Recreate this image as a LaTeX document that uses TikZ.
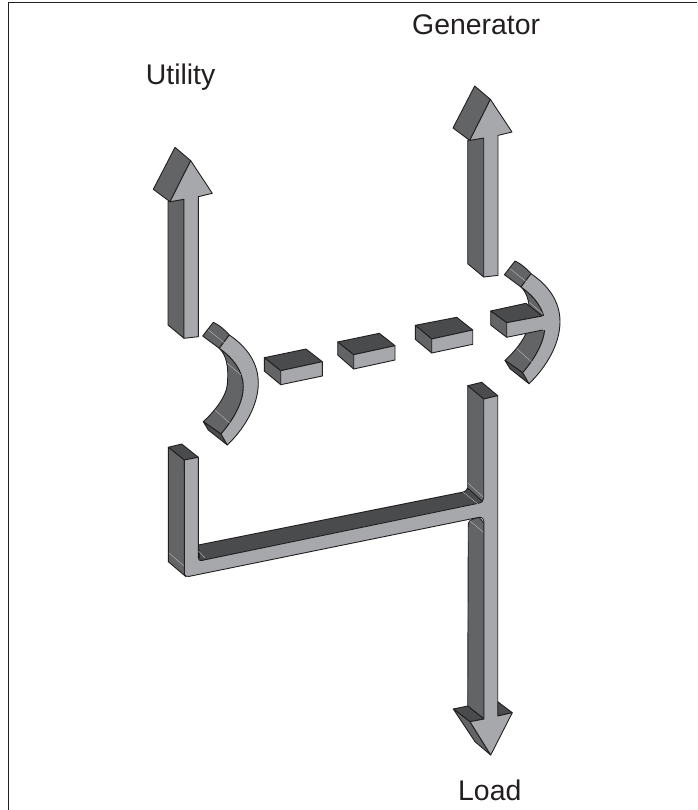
\documentclass[tikz,border=0pt]{standalone}
\usepackage{fontspec}
\setmainfont{Liberation Sans}
\definecolor{lightface}{HTML}{A6A8AB}
\definecolor{midface}{HTML}{636466}
\definecolor{darkface}{HTML}{4A4B4D}
\definecolor{inkline}{HTML}{231F20}
\tikzset{
  edge/.style={draw=inkline,line width=0.9pt,line join=round},
  lightf/.style={edge,fill=lightface},
  midf/.style={edge,fill=midface},
  darkf/.style={edge,fill=darkface},
  glint/.style={draw=lightface!70!white,line width=0.35pt},
  frameline/.style={draw=inkline,line width=1.5pt},
  lbl/.style={anchor=base west,inner sep=0pt,text=inkline,font=\fontsize{28.4}{30}\selectfont}
}
\newcommand{\upArrowShape}{%
  % head side, shaft side, light face; origin values are for the left arrow
  \draw[midf] (175,147.3) -- (190.7,160.7) -- (170,201.7) -- (153.3,189.3) -- cycle;
  \draw[midf] (168,201.7) -- (184,199.3) -- (184,338.3) -- (168,325) -- cycle;
  \draw[lightf] (190.7,160.7) -- (212.3,193.3) -- (198.3,196.7) -- (198.3,336.7) -- (184,338.3) -- (184,199.3) -- (170,201.7) -- cycle;
}
\newcommand{\couplingShape}{%
  % inner back face
  \draw[midf] (219.3,348.3) .. controls (226,355) and (229,365) .. (227.3,385)
     .. controls (226,397) and (214,412) .. (203.3,421.7) -- (221,434)
     .. controls (233,420) and (243.3,403) .. (243.3,386.7)
     .. controls (243.3,371) and (233,358) .. (219.3,348.3) -- cycle;
  \draw[darkf] (203.3,421.7) -- (208.3,430) -- (227.3,445) -- (221,434) -- cycle;
  \draw[midf] (213.3,322.3) -- (202.7,336) -- (219.3,348.3) -- (229.3,335) .. controls (224,329) and (219,325) .. (213.3,322.3) -- cycle;
  \draw[lightf] (229.3,335) .. controls (247,347) and (258.3,363) .. (258.3,383)
     .. controls (258.3,405) and (245,428) .. (227.3,445) -- (221,434)
     .. controls (233,420) and (243.3,403) .. (243.3,386.7)
     .. controls (243.3,371) and (233,358) .. (219.3,348.3) -- cycle;
  \draw[glint] (208.3,330) -- (225,343.3);
  \draw[glint] (215,410) -- (230,423.3);
  \draw[glint] (227.3,363.3) -- (241,375);
}
\newcommand{\blockShape}[1]{}
\begin{document}
\begin{tikzpicture}[x=1pt,y=-1pt]
\useasboundingbox (0,0) rectangle (697,810);
\fill[white] (0,0) rectangle (697,810);
% open frame
\coordinate (frameBL) at (8.7,810);
\coordinate (frameTL) at (8.7,2.7);
\coordinate (frameTR) at (697,2.7);
\draw[frameline] (frameBL) -- (frameTL) -- (frameTR);
% labels
\node[lbl] (generator) at (412,34.3) {Generator};
\node[lbl] (utility) at (145.7,85) {Utility};
\node[lbl] (load) at (458,800) {Load};
% left arrow
\upArrowShape
% right arrow
\begin{scope}[shift={(299.7,-61.3)}]
\upArrowShape
\end{scope}
% left coupling
\couplingShape
% right coupling with its tee
\begin{scope}[shift={(301.7,-61.3)}]
\couplingShape
\end{scope}
\draw[darkf] (490.7,311) -- (526,303.3) -- (542.3,316) -- (506.7,322.7) -- cycle;
\draw[midf] (490.7,311) -- (506.7,322.7) -- (506.7,337.3) -- (490.7,325) -- cycle;
\fill[lightface] (506.7,322.7) -- (542.3,316) -- (548,316) -- (548,330) -- (542.7,330) -- (506.7,337.3) -- cycle;
\draw[edge] (542.3,316) -- (506.7,322.7) -- (506.7,337.3) -- (542.7,330);
% blocks
\draw[darkf] (264.3,357.7) -- (306,349) -- (322.3,361.7) -- (280.7,370.7) -- cycle;
\draw[midf] (264.3,357.7) -- (280.7,370.7) -- (280.7,384.7) -- (264.3,371) -- cycle;
\draw[lightf] (280.7,370.7) -- (322.3,361.7) -- (322.3,376) -- (280.7,384.7) -- cycle;
\draw[darkf] (337.7,342) -- (379.3,333.3) -- (395,345.7) -- (353.7,354.7) -- cycle;
\draw[midf] (337.7,342) -- (353.7,354.7) -- (353.7,369) -- (337.7,355) -- cycle;
\draw[lightf] (353.7,354.7) -- (395,345.7) -- (395,360) -- (353.7,369) -- cycle;
\draw[darkf] (415.3,325.3) -- (456.7,317.3) -- (472.7,330) -- (431.7,339) -- cycle;
\draw[midf] (415.3,325.3) -- (431.7,339) -- (431.7,353) -- (415.3,339.3) -- cycle;
\draw[lightf] (431.7,339) -- (472.7,330) -- (472.7,344.3) -- (431.7,353) -- cycle;
% load bus: dark sides
\draw[darkf] (467.7,385.7) -- (481.7,382.3) -- (497.7,395.7) -- (483.7,399) -- cycle;
\draw[midf] (467.7,385.7) -- (483.7,399) -- (484,503) -- (467.7,490) -- cycle;
\draw[darkf] (198.3,545) -- (463,492.1) .. controls (465,491.7) and (466.7,490.5) .. (467.7,488) -- (484,503) -- (200,561) -- cycle;
\draw[darkf] (168.3,447.3) -- (181.7,444) -- (198.3,457.3) -- (184.3,460) -- cycle;
\draw[midf] (168.3,447.3) -- (184.3,460) -- (186,576.7) -- (168.3,561.7) -- cycle;
\draw[midf] (468.3,524) .. controls (468.3,521) and (470,520) .. (473,519) -- (479,517.3) -- (484,523) -- (484,719) -- (467.7,706) -- cycle;
% load arrow head, back parts
\draw[darkf] (453.3,709) -- (467.7,706) -- (484,719) -- (470,721.7) -- cycle;
\draw[darkf] (497.7,701.7) -- (512.3,712.7) -- (497.7,716) -- cycle;
\draw[midf] (453.3,709) -- (470,721.7) -- (490.7,755) -- (475,741.7) -- cycle;
% load bus: light face
\draw[lightf] (184.3,460) -- (198.3,457.3) -- (198.3,556)
   .. controls (198.3,559.5) and (199,561) .. (202,560.4)
   -- (478.3,503.3) .. controls (481.5,502.6) and (483.7,501) .. (483.7,498)
   -- (483.7,399) -- (497.7,395.7) -- (497.7,716) -- (512.3,712.7)
   -- (490.7,755) -- (470,721.7) -- (484,719) -- (484,523)
   .. controls (484,519) and (482,516.7) .. (479,517.3)
   -- (189,576.4) .. controls (187,576.8) and (185.5,576) .. (184.3,574.5) -- cycle;
% chamfer glints
\draw[glint] (468,483) -- (483,497);
\draw[glint] (463,492) -- (478,504);
\draw[glint] (469,520) -- (483,532);
\draw[glint] (169,553) -- (184,566);
\draw[glint] (198.5,551) -- (205,558);
\end{tikzpicture}
\end{document}
